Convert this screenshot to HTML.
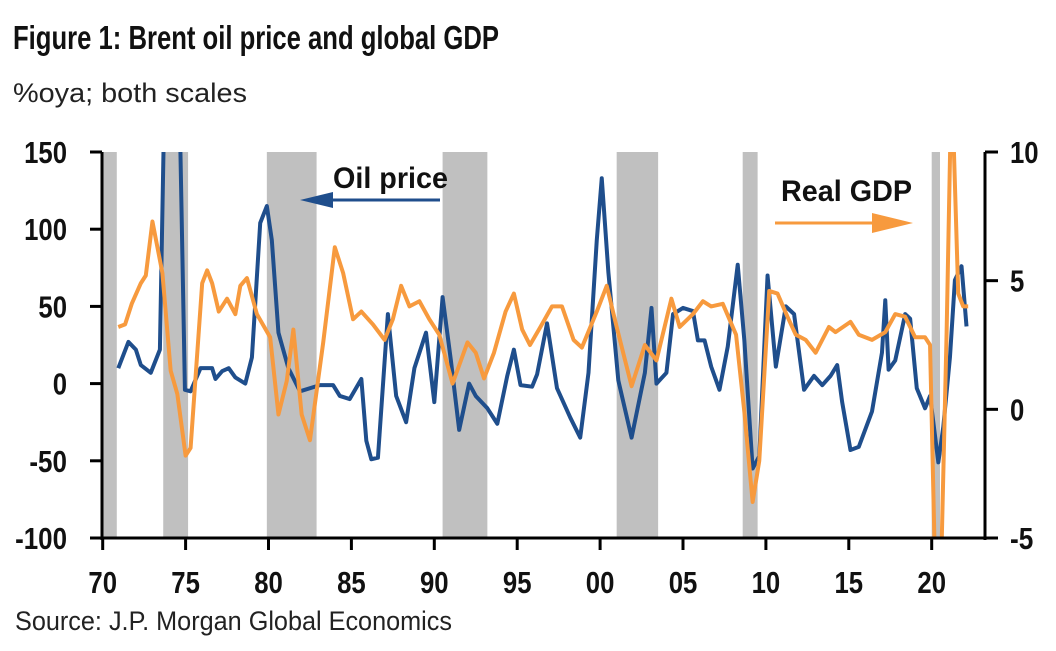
<!DOCTYPE html>
<html><head><meta charset="utf-8"><style>
body{margin:0;background:#fff;}
svg{display:block;font-family:"Liberation Sans",Arial,sans-serif;}
</style></head><body>
<svg id="chart" width="1056" height="651" viewBox="0 0 1056 651" xmlns="http://www.w3.org/2000/svg">
<text x="13" y="49" font-size="33" font-weight="bold" fill="#111" textLength="486" lengthAdjust="spacingAndGlyphs">Figure 1: Brent oil price and global GDP</text>
<text x="13" y="102" font-size="27" fill="#222" textLength="234" lengthAdjust="spacingAndGlyphs">%oya; both scales</text>
<text x="15" y="630" font-size="27" fill="#222" textLength="437" lengthAdjust="spacingAndGlyphs">Source: J.P. Morgan Global Economics</text>
<defs><clipPath id="plotclip"><rect x="102" y="152" width="883" height="386"/></clipPath></defs>
<g id="bands" clip-path="url(#plotclip)"></g>
<g id="lines" clip-path="url(#plotclip)"></g>
<g id="axes"></g>
<g>
<text x="333" y="188" font-size="30" font-weight="bold" fill="#111" textLength="115" lengthAdjust="spacingAndGlyphs">Oil price</text>
<line x1="440" y1="200" x2="330" y2="200" stroke="#1f4e8c" stroke-width="3"/>
<polygon points="300,200 333,192 333,208" fill="#1f4e8c"/>
</g>
<g>
<text x="781" y="201" font-size="30" font-weight="bold" fill="#111" textLength="131" lengthAdjust="spacingAndGlyphs">Real GDP</text>
<line x1="775" y1="223" x2="885" y2="223" stroke="#f79a3e" stroke-width="3"/>
<polygon points="913,223 872,213 872,233" fill="#f79a3e"/>
</g>
</svg>
<script>
const recessionStarts=[1970.0,1973.65,1979.9,1990.5,2001.0,2008.6,2020.0];
const recessionEnds=[1970.85,1975.15,1982.9,1993.2,2003.5,2009.5,2020.5];
const oilYears=[1970.94,1971.55,1972,1972.3,1972.9,1973.45,1973.75,1974.0,1974.3,1974.6,1974.96,1975.3,1975.9,1976.6,1976.8,1977.2,1977.6,1978,1978.6,1979,1979.5,1979.9,1980.2,1980.6,1981.2,1981.9,1983.1,1983.9,1984.3,1984.9,1985.6,1985.9,1986.2,1986.6,1987.2,1987.7,1988.3,1988.8,1989.5,1990.0,1990.5,1991.0,1991.5,1992.1,1992.5,1993.2,1993.8,1994.4,1994.8,1995.2,1995.9,1996.2,1996.8,1997.4,1998.2,1998.8,1999.3,1999.8,2000.1,2000.5,2001.1,2001.9,2002.7,2003.1,2003.4,2004,2004.4,2005,2005.6,2005.9,2006.3,2006.7,2007.2,2007.7,2008.3,2008.7,2009.2,2009.6,2010.1,2010.6,2011.2,2011.7,2012.3,2012.9,2013.4,2013.9,2014.3,2014.6,2015.1,2015.6,2016.4,2017.0,2017.2,2017.4,2017.8,2018.4,2018.7,2019.1,2019.6,2019.9,2020.4,2020.7,2021.1,2021.4,2021.8,2022.1];
const oilValues=[10,27,22,12,7,22,200,280,300,200,-4,-5,10,10,3,8,10,4,0,17,104,115,93,33,10,-5,-1,-1,-8,-10,3,-37,-49,-48,45,-8,-25,10,33,-12,56,15,-30,0,-8,-16,-26,5,22,-1,-2,6,39,-3,-22,-35,7,93,133,72,2,-35,7,49,0,7,45,49,47,28,28,11,-4,24,77,28,-55,-47,70,11,50,45,-4,5,-1,5,12,-12,-43,-41,-18,20,54,9,15,45,42,-3,-16,-8,-51,-28,17,67,76,37];
const gdpYears=[1970.94,1971.35,1971.75,1972.3,1972.6,1973,1973.6,1974.1,1974.5,1975.0,1975.3,1976,1976.3,1976.6,1977,1977.5,1978,1978.3,1978.7,1979.3,1980.1,1980.6,1981.1,1981.5,1982,1982.5,1983.3,1984.0,1984.5,1985.1,1985.6,1986.3,1987,1987.5,1988,1988.5,1989.1,1989.7,1990.3,1991.1,1992.0,1992.5,1993,1993.6,1994.3,1994.8,1995.3,1995.77,1996.4,1997.1,1997.7,1998.4,1998.9,1999.8,2000.4,2001,2001.9,2002.7,2003.4,2004.3,2004.8,2005.6,2006.2,2006.7,2007.4,2008.2,2008.7,2009.2,2009.6,2010.2,2010.7,2011.3,2011.8,2012.4,2013,2013.8,2014.2,2015.1,2015.6,2016.4,2017.2,2017.8,2018.4,2019,2019.6,2019.9,2020.3,2020.5,2020.9,2021.2,2021.6,2021.9,2022.2];
const gdpValues=[3.2,3.3,4.1,4.9,5.2,7.3,5.3,1.5,0.6,-1.8,-1.5,4.9,5.4,4.9,3.8,4.3,3.7,4.8,5.1,3.7,2.8,-0.2,1.1,3.1,-0.2,-1.2,2.6,6.3,5.3,3.5,3.8,3.3,2.7,3.5,4.8,4.0,4.2,3.5,2.9,1.0,2.6,2.2,1.2,2.2,3.8,4.5,3.1,2.5,3.2,4.0,4.0,2.7,2.4,3.8,4.8,3.2,0.9,2.5,1.9,4.3,3.2,3.7,4.2,4.0,4.1,2.9,-0.1,-3.6,-2.0,4.6,4.5,3.6,2.9,2.7,2.2,3.2,3.0,3.4,2.9,2.7,3.0,3.7,3.6,2.8,2.8,2.5,-9,-8,3,13,4.5,4.0,4.0];
const xTicks=[1970,1975,1980,1985,1990,1995,2000,2005,2010,2015,2020];
const xTickLabels=["70","75","80","85","90","95","00","05","10","15","20"];
const leftTicks=[150,100,50,0,-50,-100];
const rightTicks=[10,5,0,-5];

const X0=102.7,PX=16.58,TOP=152,BOT=538;
const xs=y=>X0+(y-1970)*PX;
const yL=v=>TOP+(150-v)*(BOT-TOP)/250;
const yR=v=>TOP+(10-v)*(BOT-TOP)/15;
const NS="http://www.w3.org/2000/svg";
function mk(tag,attrs,parent){const e=document.createElementNS(NS,tag);for(const k in attrs)e.setAttribute(k,attrs[k]);parent.appendChild(e);return e;}
function lw(s){let w=0;for(const c of s)w+=(c==='-'?9:14.3);return w;}
const bands=document.getElementById('bands'),lines=document.getElementById('lines'),axes=document.getElementById('axes');
recessionStarts.forEach((s,i)=>{
  const r=mk('rect',{x:xs(s),y:TOP,width:xs(recessionEnds[i])-xs(s),height:BOT-TOP,fill:'#c0c0c0'},bands);
  
  
});
const op=mk('polyline',{points:oilYears.map((y,i)=>xs(y)+','+yL(oilValues[i])).join(' '),fill:'none',stroke:'#1f4e8c','stroke-width':4,'stroke-linejoin':'round'},lines);


const gp=mk('polyline',{points:gdpYears.map((y,i)=>xs(y)+','+yR(gdpValues[i])).join(' '),fill:'none',stroke:'#f79a3e','stroke-width':4,'stroke-linejoin':'round'},lines);


const la=mk('line',{x1:102,y1:TOP,x2:102,y2:BOT+2,stroke:'#000','stroke-width':3},axes);


const ra=mk('line',{x1:985,y1:TOP,x2:985,y2:BOT+2,stroke:'#000','stroke-width':3},axes);


const xa=mk('line',{x1:101,y1:BOT,x2:986,y2:BOT,stroke:'#000','stroke-width':3},axes);


xTicks.forEach((t,i)=>{
  mk('line',{x1:xs(t),y1:BOT,x2:xs(t),y2:BOT+12,stroke:'#000','stroke-width':3},axes);
  const s=xTickLabels[i];
  const tx=mk('text',{x:xs(t)-lw(s)/2,y:593,'font-size':31,'font-weight':'bold',fill:'#111',textLength:lw(s),lengthAdjust:'spacingAndGlyphs'},axes);
  tx.textContent=s;
  
  
});
leftTicks.forEach(t=>{
  mk('line',{x1:90,y1:yL(t),x2:102,y2:yL(t),stroke:'#000','stroke-width':3},axes);
  const s=String(t);
  const tx=mk('text',{x:67-lw(s),y:yL(t)+11,'font-size':31,'font-weight':'bold',fill:'#111',textLength:lw(s),lengthAdjust:'spacingAndGlyphs'},axes);
  tx.textContent=s;
  
  
});
rightTicks.forEach(t=>{
  mk('line',{x1:985,y1:yR(t),x2:998,y2:yR(t),stroke:'#000','stroke-width':3},axes);
  const s=String(t);
  const tx=mk('text',{x:1010,y:yR(t)+11,'font-size':31,'font-weight':'bold',fill:'#111',textLength:lw(s),lengthAdjust:'spacingAndGlyphs'},axes);
  tx.textContent=s;
  
  
});
</script>
</body></html>
